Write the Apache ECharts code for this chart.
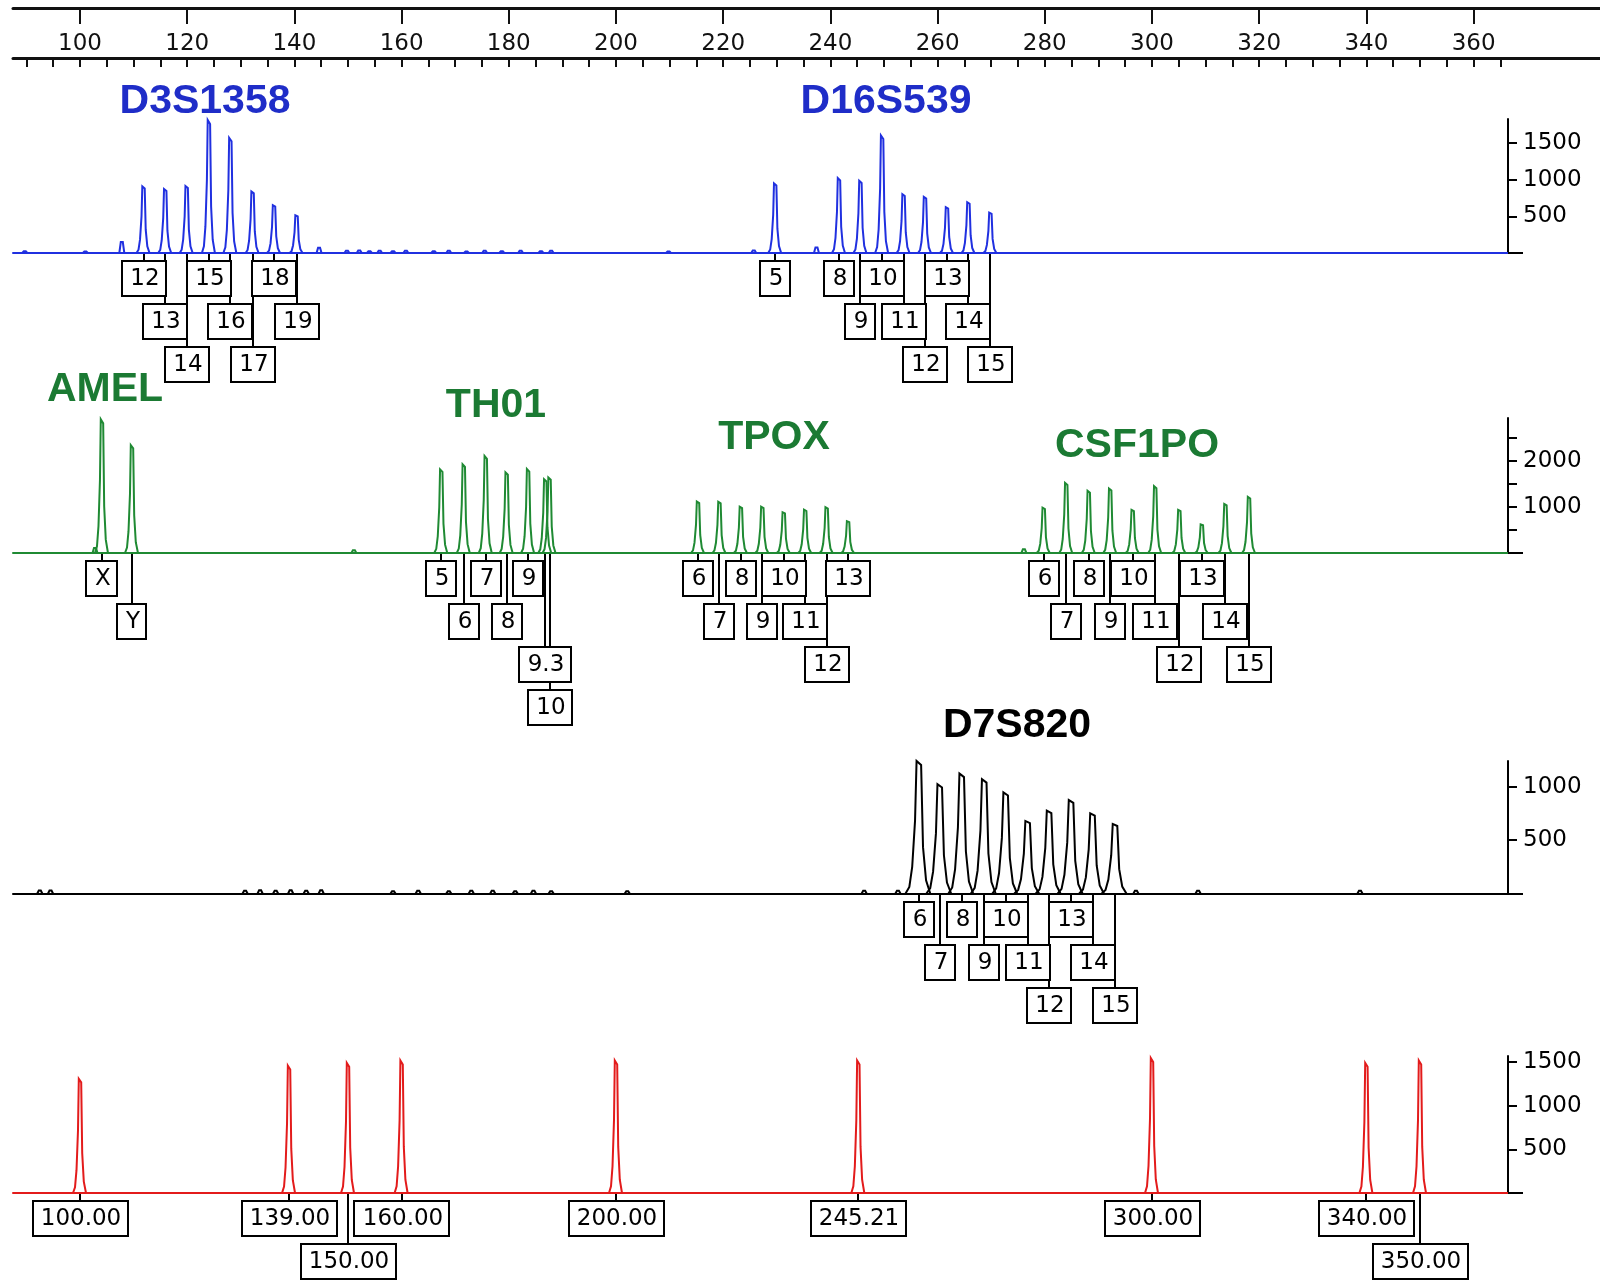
<!DOCTYPE html>
<html>
<head>
<meta charset="utf-8">
<script src="https://cdn.jsdelivr.net/npm/echarts@6/dist/echarts.min.js"></script>
<style>
html,body{margin:0;padding:0;background:#fff;}
#chart{width:1600px;height:1280px;}
</style>
</head>
<body>
<div id="chart"></div>
<script>
// ================= DATA =================
// Ruler (base pairs)
const rulerLabelTicks = [100, 120, 140, 160, 180, 200, 220, 240, 260, 280, 300, 320, 340, 360];
const rulerMinorTicks = [90, 95, 100, 105, 110, 115, 120, 125, 130, 135, 140, 145, 150, 155, 160, 165, 170, 175, 180, 185, 190, 195, 200, 205, 210, 215, 220, 225, 230, 235, 240, 245, 250, 255, 260, 265, 270, 275, 280, 285, 290, 295, 300, 305, 310, 315, 320, 325, 330, 335, 340, 345, 350, 355, 360, 365];

// Blue dye
const d3s1358Alleles = ['12', '13', '14', '15', '16', '17', '18', '19'];
const d3s1358Bp = [111.85, 115.9, 119.9, 124.05, 128.05, 132.2, 136.2, 140.4];
const d3s1358Rfu = [909, 872, 914, 1815, 1572, 840, 652, 515];
const d16s539Alleles = ['5', '8', '9', '10', '11', '12', '13', '14', '15'];
const d16s539Bp = [229.7, 241.6, 245.6, 249.65, 253.65, 257.65, 261.75, 265.75, 269.85];
const d16s539Rfu = [950, 1023, 986, 1605, 803, 767, 624, 693, 551];
const blueNoiseBp = [89.7, 101, 107.8, 144.6, 149.8, 152.1, 154, 155.9, 158.4, 160.8, 166, 168.8, 172.1, 175.5, 178.7, 182.2, 186, 187.9, 209.8, 225.7, 237.4];
const blueNoiseRfu = [25, 20, 150, 70, 30, 35, 25, 30, 25, 30, 25, 30, 20, 30, 25, 30, 25, 30, 20, 35, 75];
const blueYTicks = [500, 1000, 1500];
const blueYLabels = [500, 1000, 1500];

// Green dye
const amelAlleles = ['X', 'Y'];
const amelBp = [104.1, 109.7];
const amelRfu = [2900, 2340];
const th01Alleles = ['5', '6', '7', '8', '9', '9.3', '10'];
const th01Bp = [167.4, 171.6, 175.7, 179.6, 183.6, 186.8, 187.6];
const th01Rfu = [1816, 1924, 2104, 1750, 1822, 1600, 1640];
const tpoxAlleles = ['6', '7', '8', '9', '10', '11', '12', '13'];
const tpoxBp = [215.3, 219.3, 223.3, 227.3, 231.3, 235.3, 239.3, 243.3];
const tpoxRfu = [1117, 1110, 1004, 1004, 885, 940, 995, 690];
const csf1poAlleles = ['6', '7', '8', '9', '10', '11', '12', '13', '14', '15'];
const csf1poBp = [279.8, 284, 288.2, 292.2, 296.4, 300.6, 305.1, 309.3, 313.7, 318.1];
const csf1poRfu = [985, 1520, 1350, 1400, 935, 1450, 935, 620, 1065, 1220];
const greenNoiseBp = [102.8, 151.1, 276.1];
const greenNoiseRfu = [110, 60, 80];
const greenYTicks = [500, 1000, 1500, 2000, 2500];
const greenYLabels = [1000, 2000];

// Yellow (shown black) dye
const d7s820Alleles = ['6', '7', '8', '9', '10', '11', '12', '13', '14', '15'];
const d7s820Bp = [256.5, 260.4, 264.5, 268.7, 272.7, 276.8, 280.8, 284.9, 288.9, 293.1];
const d7s820Rfu = [1240, 1023, 1123, 1070, 946, 679, 775, 874, 751, 651];
const blackNoiseBp = [92.5, 94.5, 130.8, 133.6, 136.5, 139.3, 142.2, 145, 158.4, 163.1, 168.8, 173, 177, 181.2, 184.6, 187.9, 202.1, 246.3, 252.6, 297, 308.6, 338.8];
const blackNoiseRfu = [28, 28, 25, 30, 25, 30, 25, 30, 20, 25, 20, 25, 25, 20, 25, 20, 20, 25, 25, 25, 25, 25];
const blackYTicks = [500, 1000];
const blackYLabels = [500, 1000];

// Red dye (size standard)
const sizeLabels = ['100.00', '139.00', '150.00', '160.00', '200.00', '245.21', '300.00', '340.00', '350.00'];
const sizeBp = [100, 139, 150, 160, 200, 245.21, 300, 340, 350];
const sizeRfu = [1307, 1460, 1491, 1518, 1518, 1518, 1546, 1491, 1518];
const redYTicks = [500, 1000, 1500];
const redYLabels = [500, 1000, 1500];

// ================= LAYOUT =================
const BP_MIN = 87.5, PX_PER_BP = 5.36, PLOT_LEFT = 13, AXIS_X = 1508, CHART_W = 1600;
const RULER_MAX = BP_MIN + (CHART_W - PLOT_LEFT) / PX_PER_BP;
const PANEL_MAX = BP_MIN + (AXIS_X - PLOT_LEFT) / PX_PER_BP;
const BOX_GAP = 8, BOX_H = 35, ROW_PITCH = 43, BOX_PAD = 15;
const LABEL_FONT = 'DejaVu Sans';
const LABEL_SIZE = 23;

const LABEL_ROWS = {
  d3s1358: [0, 1, 2, 0, 1, 2, 0, 1],
  d16s539: [0, 0, 1, 0, 1, 2, 0, 1, 2],
  amel: [0, 1],
  th01: [0, 1, 0, 1, 0, 2, 3],
  tpox: [0, 1, 0, 1, 0, 1, 2, 0],
  csf1po: [0, 1, 0, 1, 0, 1, 2, 0, 1, 2],
  d7s820: [0, 1, 0, 1, 0, 1, 2, 0, 1, 2],
  size: [0, 0, 1, 0, 0, 0, 0, 0, 1]
};

const TITLES = [
  { text: 'D3S1358', x: 205, y: 102, color: '#1f2dc8' },
  { text: 'D16S539', x: 886, y: 102, color: '#1f2dc8' },
  { text: 'AMEL', x: 105, y: 390, color: '#1b7a33' },
  { text: 'TH01', x: 496, y: 406, color: '#1b7a33' },
  { text: 'TPOX', x: 774, y: 438, color: '#1b7a33' },
  { text: 'CSF1PO', x: 1137, y: 446, color: '#1b7a33' },
  { text: 'D7S820', x: 1017, y: 726, color: '#000000' }
];

// peak outline template: [pixel offset from apex, fraction of height]
const PEAK_SHAPE = [[-7, 0], [-5, 0.05], [-3.5, 0.2], [-2, 0.55], [-1.2, 1], [1.2, 0.97], [2.2, 0.35], [3.8, 0.1], [6, 0]];
const NOISE_SHAPE = [[-2.5, 0], [-1, 1], [1, 1], [2.5, 0]];

const PANELS = [
  { top: 119, height: 134, yMax: 1830, yTicks: blueYTicks, yLabels: blueYLabels, color: '#2030e0', scale: 1,
    loci: [[d3s1358Alleles, d3s1358Bp, d3s1358Rfu, LABEL_ROWS.d3s1358], [d16s539Alleles, d16s539Bp, d16s539Rfu, LABEL_ROWS.d16s539]],
    noise: [blueNoiseBp, blueNoiseRfu] },
  { top: 418, height: 135, yMax: 2930, yTicks: greenYTicks, yLabels: greenYLabels, color: '#1f8a33', scale: 1,
    loci: [[amelAlleles, amelBp, amelRfu, LABEL_ROWS.amel], [th01Alleles, th01Bp, th01Rfu, LABEL_ROWS.th01],
           [tpoxAlleles, tpoxBp, tpoxRfu, LABEL_ROWS.tpox], [csf1poAlleles, csf1poBp, csf1poRfu, LABEL_ROWS.csf1po]],
    noise: [greenNoiseBp, greenNoiseRfu] },
  { top: 761, height: 132.5, yMax: 1240, yTicks: blackYTicks, yLabels: blackYLabels, color: '#000000', scale: 1.9,
    loci: [[d7s820Alleles, d7s820Bp, d7s820Rfu, LABEL_ROWS.d7s820]],
    noise: [blackNoiseBp, blackNoiseRfu] },
  { top: 1056, height: 137, yMax: 1570, yTicks: redYTicks, yLabels: redYLabels, color: '#e31b1b', scale: 1,
    loci: [[sizeLabels, sizeBp, sizeRfu, LABEL_ROWS.size]],
    noise: [[], []] }
];

// ================= BUILD =================
const measureCtx = document.createElement('canvas').getContext('2d');
measureCtx.font = LABEL_SIZE + 'px "' + LABEL_FONT + '"';
function textWidth(t) { return measureCtx.measureText(t).width; }

function peakRenderer(color, shape, scale) {
  return function (params, api) {
    const bp = api.value(0), h = api.value(1);
    const apex = api.coord([bp, h]);
    const base = api.coord([bp, 0]);
    const H = base[1] - apex[1];
    const pts = shape.map(s => [apex[0] + s[0] * scale, base[1] - s[1] * H]);
    return { type: 'polyline', silent: true, shape: { points: pts },
      style: { stroke: color, lineWidth: 2, fill: null, lineJoin: 'miter' } };
  };
}
function leaderRenderer() {
  return function (params, api) {
    const b = api.coord([api.value(0), 0]);
    const row = api.value(1);
    const x = Math.round(b[0]);
    const top = b[1] + BOX_GAP + row * ROW_PITCH;
    return { type: 'line', silent: true, shape: { x1: x, y1: b[1] + 1, x2: x, y2: top },
      style: { stroke: '#000', lineWidth: 2 } };
  };
}
function boxRenderer(texts) {
  return function (params, api) {
    const b = api.coord([api.value(0), 0]);
    const row = api.value(1);
    const t = texts[params.dataIndex];
    const w = Math.round(textWidth(t) + BOX_PAD);
    const top = Math.round(b[1] + BOX_GAP + row * ROW_PITCH);
    return { type: 'group', silent: true, children: [
      { type: 'rect', shape: { x: Math.round(b[0] - w / 2), y: top, width: w, height: BOX_H },
        style: { fill: '#fff', stroke: '#000', lineWidth: 2 } },
      { type: 'text', style: { text: t, x: Math.round(b[0]) + 1, y: top + BOX_H / 2 + 1, align: 'center', verticalAlign: 'middle',
        fontSize: LABEL_SIZE, fontFamily: LABEL_FONT, fill: '#000' } }
    ] };
  };
}
const plainNumber = v => String(v);

const grids = [{ left: PLOT_LEFT, top: 8, width: CHART_W - PLOT_LEFT, height: 50, outerBoundsMode: 'none' }];
const xAxes = [
  { gridIndex: 0, type: 'value', position: 'top', min: BP_MIN, max: RULER_MAX,
    axisLine: { show: true, onZero: false, lineStyle: { color: '#111', width: 3 } },
    axisTick: { show: true, inside: true, length: 16, customValues: rulerLabelTicks, lineStyle: { color: '#111', width: 2 } },
    axisLabel: { show: true, inside: true, margin: 25, customValues: rulerLabelTicks, formatter: plainNumber, color: '#111', fontSize: 23, fontFamily: LABEL_FONT },
    splitLine: { show: false } },
  { gridIndex: 0, type: 'value', position: 'top', min: BP_MIN, max: RULER_MAX,
    axisLine: { show: false },
    axisTick: { show: true, inside: true, length: 9, customValues: rulerMinorTicks, lineStyle: { color: '#111', width: 2 } },
    axisLabel: { show: false }, splitLine: { show: false } },
  { gridIndex: 0, type: 'value', position: 'bottom', min: BP_MIN, max: RULER_MAX,
    axisLine: { show: true, onZero: false, lineStyle: { color: '#111', width: 3 } },
    axisTick: { show: false }, axisLabel: { show: false }, splitLine: { show: false } }
];
const yAxes = [{ gridIndex: 0, type: 'value', min: 0, max: 1, show: false }];
const series = [];

PANELS.forEach((p, i) => {
  const g = i + 1;
  grids.push({ left: PLOT_LEFT, top: p.top, width: AXIS_X - PLOT_LEFT, height: p.height, outerBoundsMode: 'none' });
  const xi = xAxes.length;
  xAxes.push({ gridIndex: g, type: 'value', position: 'bottom', min: BP_MIN, max: PANEL_MAX,
    axisLine: { show: true, onZero: false, lineStyle: { color: p.color, width: 2 } },
    axisTick: { show: false }, axisLabel: { show: false }, splitLine: { show: false } });
  const yi = yAxes.length;
  yAxes.push({ gridIndex: g, type: 'value', position: 'right', min: 0, max: p.yMax,
    axisLine: { show: true, onZero: false, lineStyle: { color: '#000', width: 2 } },
    axisTick: { show: true, length: 9, customValues: p.yTicks, lineStyle: { color: '#000', width: 2 } },
    axisLabel: { show: true, margin: 15, customValues: p.yLabels, formatter: plainNumber, color: '#000', fontSize: 23, fontFamily: LABEL_FONT },
    splitLine: { show: false } });
  yAxes.push({ gridIndex: g, type: 'value', position: 'right', min: 0, max: p.yMax,
    axisLine: { show: false },
    axisTick: { show: true, length: 15, customValues: [0], lineStyle: { color: '#000', width: 2 } },
    axisLabel: { show: false }, splitLine: { show: false } });

  const peakData = [], labelData = [], labelTexts = [];
  p.loci.forEach(([alleles, bps, rfus, rows]) => {
    bps.forEach((b, k) => {
      peakData.push([b, rfus[k]]);
      labelData.push([b, rows[k]]);
      labelTexts.push(alleles[k]);
    });
  });
  const noiseData = p.noise[0].map((b, k) => [b, p.noise[1][k]]);

  series.push({ type: 'custom', xAxisIndex: xi, yAxisIndex: yi, clip: false, z: 3,
    renderItem: peakRenderer(p.color, NOISE_SHAPE, 1), data: noiseData });
  series.push({ type: 'custom', xAxisIndex: xi, yAxisIndex: yi, clip: false, z: 4,
    renderItem: peakRenderer(p.color, PEAK_SHAPE, p.scale), data: peakData });
  series.push({ type: 'custom', xAxisIndex: xi, yAxisIndex: yi, clip: false, z: 5,
    renderItem: leaderRenderer(), data: labelData });
  series.push({ type: 'custom', xAxisIndex: xi, yAxisIndex: yi, clip: false, z: 6,
    renderItem: boxRenderer(labelTexts), data: labelData });
});

const graphics = TITLES.map(t => ({
  type: 'text', x: t.x, y: t.y, silent: true,
  style: { text: t.text, fill: t.color, fontSize: 41, fontWeight: 'bold', fontFamily: 'Liberation Sans',
    align: 'center', verticalAlign: 'middle' }
}));

const chart = echarts.init(document.getElementById('chart'), null, { renderer: 'canvas' });
chart.setOption({
  animation: false,
  backgroundColor: '#ffffff',
  grid: grids,
  xAxis: xAxes,
  yAxis: yAxes,
  series: series,
  graphic: graphics
});
</script>
</body>
</html>
